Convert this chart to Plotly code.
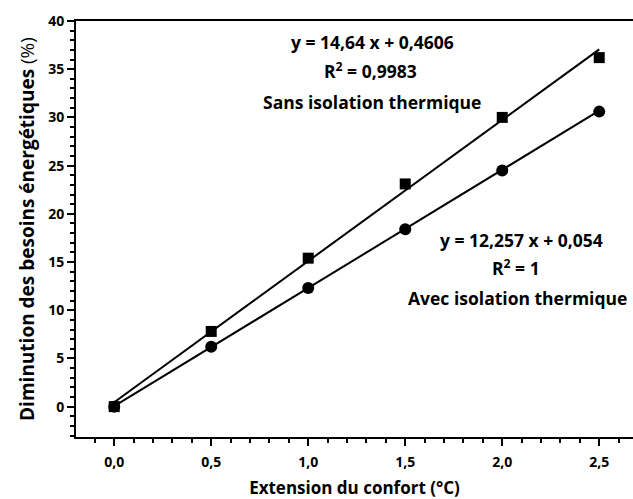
import plotly.graph_objects as go

# Data
x_vals = [0.0, 0.5, 1.0, 1.5, 2.0, 2.5]
sans_isolation = [0.0, 7.8, 15.4, 23.1, 30.0, 36.2]
avec_isolation = [0.0, 6.2, 12.3, 18.4, 24.5, 30.6]

# Regression coefficients printed on the chart
fit_sans = {"slope": 14.64, "intercept": 0.4606, "r2": "0,9983"}
fit_avec = {"slope": 12.257, "intercept": 0.054, "r2": "1"}
fit_x = [x_vals[0], x_vals[-1]]

FONT = "Open Sans"
fig = go.Figure()

for fit, ys, sym in [(fit_sans, sans_isolation, "square"), (fit_avec, avec_isolation, "circle")]:
    fig.add_trace(go.Scatter(
        x=fit_x, y=[fit["slope"] * xx + fit["intercept"] for xx in fit_x],
        mode="lines", line=dict(color="black", width=2), showlegend=False, hoverinfo="skip"))
    fig.add_trace(go.Scatter(
        x=x_vals, y=ys, mode="markers",
        marker=dict(symbol=sym, size=12 if sym == "circle" else 11, color="black"),
        showlegend=False, cliponaxis=False))

ann_font = dict(family=FONT, size=17.5, color="black")
annos = [
    (1.33, 37.8, "<b>y = 14,64 x + 0,4606</b>"),
    (1.32, 34.9, "<b>R<sup>2</sup> = 0,9983</b>"),
    (1.33, 31.6, "<b>Sans isolation thermique</b>"),
    (2.10, 17.3, "<b>y = 12,257 x + 0,054</b>"),
    (2.07, 14.4, "<b>R<sup>2</sup> = 1</b>"),
    (2.08, 11.3, "<b>Avec isolation thermique</b>"),
]
for ax_, ay_, txt in annos:
    fig.add_annotation(x=ax_, y=ay_, text=txt, showarrow=False, font=ann_font,
                       xanchor="center", yanchor="middle")

fig.update_layout(
    width=633, height=499,
    margin=dict(l=76, r=0, t=21, b=62),
    plot_bgcolor="white", paper_bgcolor="white",
    separators=", ",
    font=dict(family=FONT, color="black"),
)
fig.update_xaxes(
    range=[-0.197, 2.674], tickmode="linear", tick0=0, dtick=0.5, tickformat=".1f",
    ticks="outside", ticklen=7, tickwidth=1.5, tickcolor="black", ticklabelstandoff=4,
    minor=dict(dtick=0.1, tick0=0, ticks="outside", ticklen=4, tickwidth=1.5, tickcolor="black"),
    showline=True, linecolor="black", linewidth=2, mirror=True, showgrid=False, zeroline=False,
    tickfont=dict(family=FONT, size=14, color="black", weight="bold"),
    title=dict(text="<b>Extension du confort (°C)</b>", font=dict(family=FONT, size=17, color="black"), standoff=14),
)
fig.update_yaxes(
    range=[-3.15, 40], tickmode="linear", tick0=0, dtick=5,
    ticks="outside", ticklen=7, tickwidth=1.5, tickcolor="black",
    minor=dict(dtick=1, tick0=0, ticks="outside", ticklen=4, tickwidth=1.5, tickcolor="black"),
    showline=True, linecolor="black", linewidth=2, mirror=False, showgrid=False, zeroline=False,
    tickfont=dict(family=FONT, size=14, color="black", weight="bold"),
    title=dict(text="<b>Diminution des besoins énergétiques</b> (%)", font=dict(family=FONT, size=19, color="black"), standoff=9),
)

fig.write_html("out.html")
